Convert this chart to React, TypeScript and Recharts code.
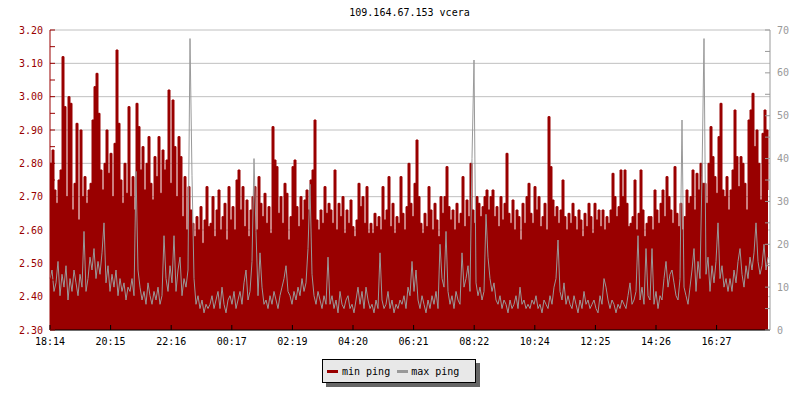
import React from 'react'
import { ComposedChart, Area, Line, XAxis, YAxis, CartesianGrid } from 'recharts'

const RED = '#990000'
const GRAY = '#999999'
const FONT = '"DejaVu Sans Mono", monospace'

// one sample every 4 minutes, 18:14 -> 18:14
const MIN_PING = [
  2.80, 2.84, 2.72, 2.68, 2.75, 2.78, 3.12, 2.97, 2.70, 3.00, 2.98, 2.66, 2.74, 2.92, 2.63, 2.90, 2.70, 2.76, 2.68, 2.72,
  2.74, 2.93, 3.03, 3.07, 2.95, 2.78, 2.72, 2.80, 2.90, 2.77, 2.83, 2.70, 2.86, 3.14, 2.92, 2.75, 2.68, 2.80, 2.71, 2.97,
  2.70, 2.76, 2.66, 2.98, 2.91, 2.78, 2.85, 2.72, 2.80, 2.88, 2.74, 2.69, 2.82, 2.76, 2.88, 2.71, 2.84, 2.78, 2.81, 3.02,
  2.74, 2.99, 2.85, 2.70, 2.88, 2.82, 2.64, 2.76, 2.60, 2.73, 2.66, 2.62, 2.58, 2.64, 2.60, 2.67, 2.56, 2.63, 2.73, 2.61,
  2.62, 2.70, 2.58, 2.66, 2.72, 2.60, 2.64, 2.68, 2.57, 2.73, 2.63, 2.67, 2.60, 2.75, 2.78, 2.66, 2.73, 2.61, 2.69, 2.58,
  2.66, 2.70, 2.73, 2.60, 2.76, 2.68, 2.64, 2.71, 2.62, 2.67, 2.59, 2.91, 2.81, 2.79, 2.65, 2.70, 2.62, 2.74, 2.71, 2.57,
  2.64, 2.79, 2.81, 2.67, 2.61, 2.70, 2.63, 2.69, 2.72, 2.66, 2.75, 2.78, 2.93, 2.63, 2.60, 2.66, 2.62, 2.73, 2.65, 2.68,
  2.66, 2.62, 2.78, 2.60, 2.68, 2.64, 2.70, 2.59, 2.66, 2.62, 2.69, 2.61, 2.58, 2.63, 2.74, 2.67, 2.70, 2.62, 2.73, 2.59,
  2.62, 2.59, 2.65, 2.61, 2.64, 2.60, 2.73, 2.63, 2.66, 2.76, 2.61, 2.68, 2.59, 2.64, 2.62, 2.76, 2.65, 2.60, 2.67, 2.80,
  2.68, 2.64, 2.74, 2.87, 2.70, 2.62, 2.59, 2.65, 2.61, 2.73, 2.66, 2.60, 2.68, 2.63, 2.58, 2.70, 2.65, 2.70, 2.79, 2.67,
  2.63, 2.66, 2.60, 2.68, 2.62, 2.65, 2.76, 2.61, 2.69, 2.64, 2.80, 2.66, 2.62, 2.70, 2.68, 2.64, 2.67, 2.70, 2.72, 2.66,
  2.70, 2.72, 2.64, 2.67, 2.61, 2.70, 2.63, 2.68, 2.83, 2.65, 2.62, 2.69, 2.60, 2.66, 2.64, 2.57, 2.68, 2.62, 2.70, 2.74,
  2.65, 2.62, 2.73, 2.66, 2.70, 2.61, 2.64, 2.68, 2.60, 2.94, 2.79, 2.69, 2.64, 2.67, 2.62, 2.66, 2.75, 2.64, 2.60, 2.65,
  2.62, 2.68, 2.64, 2.60, 2.66, 2.63, 2.58, 2.65, 2.61, 2.68, 2.64, 2.59, 2.68, 2.63, 2.66, 2.61, 2.66, 2.60, 2.64, 2.62,
  2.66, 2.77, 2.70, 2.64, 2.67, 2.78, 2.70, 2.78, 2.68, 2.61, 2.62, 2.64, 2.75, 2.60, 2.65, 2.78, 2.66, 2.58, 2.62, 2.64,
  2.64, 2.60, 2.72, 2.66, 2.62, 2.68, 2.72, 2.64, 2.76, 2.70, 2.66, 2.62, 2.79, 2.65, 2.61, 2.68, 2.60, 2.64, 2.72, 2.68,
  2.70, 2.78, 2.66, 2.77, 2.72, 2.80, 2.74, 2.74, 2.68, 2.80, 2.91, 2.82, 2.76, 2.71, 2.88, 2.98, 2.72, 2.70, 2.76, 2.66,
  2.72, 2.78, 2.96, 2.82, 2.73, 2.82, 2.80, 2.74, 2.66, 2.93, 2.96, 3.01, 2.85, 2.90, 2.80, 2.69, 2.89, 2.96, 2.90, 2.72,
]

const MAX_PING = [
  12, 14, 9, 11, 16, 8, 13, 10, 15, 7, 12, 9, 14, 11, 8, 13, 10, 23, 9, 12,
  17, 14, 19, 12, 16, 13, 18, 25, 11, 15, 9, 13, 10, 14, 8, 12, 9, 11, 7, 10,
  9, 12, 8, 37, 14, 10, 7, 9, 6, 11, 8, 6, 9, 7, 10, 6, 8, 22, 12, 9,
  15, 11, 22, 9, 14, 17, 8, 12, 10, 14, 68, 36, 12, 6, 8, 5, 7, 4, 6, 5,
  6, 8, 5, 7, 9, 5, 10, 6, 4, 7, 8, 6, 9, 5, 7, 9, 6, 11, 14, 7,
  9, 16, 40, 23, 8, 18, 10, 6, 7, 5, 8, 6, 9, 7, 5, 8, 10, 12, 15, 9,
  8, 6, 9, 7, 10, 8, 12, 9, 11, 19, 34, 13, 8, 6, 9, 7, 5, 8, 6, 17,
  6, 8, 5, 7, 4, 9, 6, 5, 7, 8, 5, 6, 4, 7, 10, 6, 9, 5, 10, 7,
  5, 6, 4, 7, 5, 18, 7, 5, 6, 9, 5, 7, 4, 6, 5, 7, 6, 8, 5, 10,
  8, 16, 9, 14, 7, 5, 8, 6, 4, 7, 5, 8, 6, 9, 5, 20, 12, 10, 23, 9,
  6, 8, 5, 9, 7, 6, 18, 10, 12, 15, 9, 40, 63, 11, 8, 10, 7, 9, 27, 17,
  12, 9, 11, 7, 6, 8, 5, 7, 6, 4, 7, 5, 6, 8, 5, 10, 6, 7, 5, 6,
  5, 7, 6, 8, 5, 6, 4, 7, 6, 5, 8, 6, 10, 12, 21, 9, 7, 11, 6, 8,
  6, 5, 8, 6, 4, 7, 5, 9, 6, 7, 5, 6, 7, 5, 4, 8, 6, 12, 10, 7,
  5, 7, 6, 4, 6, 5, 7, 6, 5, 8, 11, 6, 7, 9, 22, 7, 10, 6, 19, 8,
  7, 19, 6, 9, 5, 8, 7, 12, 16, 10, 13, 14, 11, 8, 7, 12, 49, 10, 8, 6,
  10, 14, 19, 9, 16, 12, 36, 68, 13, 17, 9, 15, 11, 16, 25, 12, 15, 10, 12, 9,
  12, 9, 14, 11, 16, 19, 13, 10, 15, 12, 17, 14, 18, 25, 16, 13, 15, 20, 14, 17,
]

const TIME_LABELS = ['18:14', '20:15', '22:16', '00:17', '02:19', '04:20', '06:21', '08:22', '10:24', '12:25', '14:26', '16:27']
const LEFT_TICKS = [2.3, 2.35, 2.4, 2.45, 2.5, 2.55, 2.6, 2.65, 2.7, 2.75, 2.8, 2.85, 2.9, 2.95, 3.0, 3.05, 3.1, 3.15, 3.2]
const LEFT_GRID = [2.3, 2.4, 2.5, 2.6, 2.7, 2.8, 2.9, 3.0, 3.1, 3.2]
const RIGHT_TICKS = [0, 5, 10, 15, 20, 25, 30, 35, 40, 45, 50, 55, 60, 65, 70]

// labels every ~121 minutes = 30.3 samples
const TICK_STEP = 30.3
const TIME_TICKS = TIME_LABELS.map((_, k) => k * TICK_STEP)

const data = MIN_PING.map((v, i) => ({ i, min: v, max: MAX_PING[i] }))

const LeftTick = (props: any) => {
  const { x, y, payload } = props
  const major = Math.round(payload.value * 100) % 10 === 0
  return (
    <g>
      <line x1={x} x2={x + 5} y1={y} y2={y} stroke={RED} />
      {major && (
        <text x={x - 7} y={y} dy="0.35em" textAnchor="end" fill={RED} fontSize={10} fontFamily={FONT}>
          {payload.value.toFixed(2)}
        </text>
      )}
    </g>
  )
}

const RightTick = (props: any) => {
  const { x, y, payload } = props
  const major = payload.value % 10 === 0
  return (
    <g>
      <line x1={x - 5} x2={x} y1={y} y2={y} stroke={GRAY} />
      {major && (
        <text x={x + 7} y={y} dy="0.35em" textAnchor="start" fill={GRAY} fontSize={10} fontFamily={FONT}>
          {payload.value}
        </text>
      )}
    </g>
  )
}

const TimeTick = (props: any) => {
  const { x, y, payload } = props
  return (
    <g>
      <line x1={x} x2={x} y1={y - 5} y2={y} stroke="#000" />
      <text x={x} y={y + 15} textAnchor="middle" fill="#000" fontSize={10} fontFamily={FONT}>
        {TIME_LABELS[Math.round(payload.value / TICK_STEP)]}
      </text>
    </g>
  )
}

export default function App() {
  return (
    <div style={{ position: 'absolute', left: 0, top: 0, width: 800, height: 400, background: '#fff', fontFamily: FONT }}>
      <div style={{ position: 'absolute', top: 7, left: 0, width: 819, textAlign: 'center', fontSize: 10, lineHeight: '12px' }}>
        109.164.67.153 vcera
      </div>
      <ComposedChart width={800} height={400} data={data} margin={{ top: 30, right: 0, bottom: 50, left: 0 }}>
        <CartesianGrid yAxisId="left" vertical={false} horizontalValues={LEFT_GRID} stroke="#c0c0c0" />
        <XAxis
          dataKey="i"
          type="number"
          domain={[0, 360]}
          ticks={TIME_TICKS}
          interval={0}
          height={20}
          tickSize={0}
          tickMargin={0}
          tick={<TimeTick />}
          axisLine={{ stroke: '#000' }}
          tickLine={false}
        />
        <YAxis
          yAxisId="left"
          orientation="left"
          domain={[2.3, 3.2]}
          ticks={LEFT_TICKS}
          interval={0}
          width={50}
          tickSize={0}
          tickMargin={0}
          tick={<LeftTick />}
          axisLine={{ stroke: RED }}
          tickLine={false}
          allowDataOverflow
        />
        <YAxis
          yAxisId="right"
          orientation="right"
          domain={[0, 70]}
          ticks={RIGHT_TICKS}
          interval={0}
          width={30}
          tickSize={0}
          tickMargin={0}
          tick={<RightTick />}
          axisLine={{ stroke: GRAY }}
          tickLine={false}
          allowDataOverflow
        />
        <Area
          yAxisId="left"
          type="stepAfter"
          dataKey="min"
          stroke={RED}
          strokeWidth={1}
          fill={RED}
          fillOpacity={1}
          dot={false}
          activeDot={false}
          isAnimationActive={false}
        />
        <Line
          yAxisId="right"
          type="linear"
          dataKey="max"
          stroke={GRAY}
          strokeWidth={1}
          dot={false}
          activeDot={false}
          isAnimationActive={false}
        />
      </ComposedChart>
      {/* Legend */}
      <div
        style={{
          position: 'absolute',
          left: 322,
          top: 359,
          width: 152,
          height: 22,
          background: '#e8e8e8',
          border: '1px solid #000',
          boxShadow: '4px 4px 0 #666',
          fontSize: 10,
          display: 'flex',
          alignItems: 'center',
        }}
      >
        <span style={{ display: 'inline-block', width: 11, height: 3, background: RED, marginLeft: 4, marginRight: 4 }} />
        <span>min ping</span>
        <span style={{ display: 'inline-block', width: 11, height: 3, background: GRAY, marginLeft: 7, marginRight: 3 }} />
        <span>max ping</span>
      </div>
    </div>
  )
}
